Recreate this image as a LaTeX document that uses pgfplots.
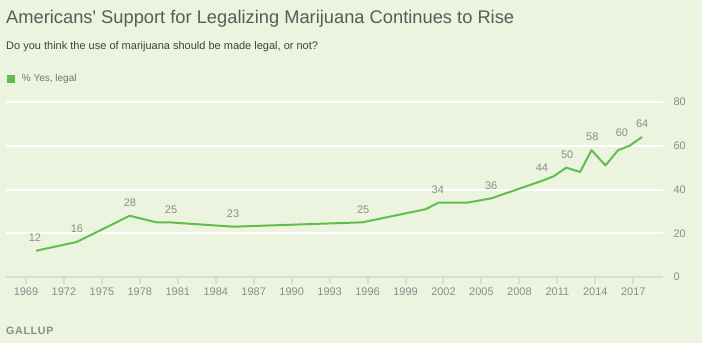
\documentclass[border=0pt]{standalone}
\usepackage{fontspec}
\setmainfont{Liberation Sans}
\usepackage{pgfplots}
\pgfplotsset{compat=1.18}
\definecolor{bgc}{RGB}{236,243,222}
\definecolor{lgreen}{RGB}{96,190,77}
\definecolor{tgray}{RGB}{140,140,140}
\definecolor{titlegray}{RGB}{90,90,90}
\definecolor{axgray}{RGB}{218,218,214}
\newfontfamily\gallupfont[LetterSpace=6]{Liberation Sans}
\begin{document}
\begin{tikzpicture}
\fill[bgc] (0,0) rectangle (702pt,-343pt);
\path[use as bounding box] (0,0) rectangle (702pt,-343pt);
\node[anchor=base west, inner sep=0, text=titlegray, font=\fontsize{18.3}{21}\selectfont] at (6pt,-23pt) {Americans\textquotesingle\ Support for Legalizing Marijuana Continues to Rise};
\node[anchor=base west, inner sep=0, text=black!75, font=\fontsize{11}{13}\selectfont] at (6pt,-49pt) {Do you think the use of marijuana should be made legal, or not?};
\fill[lgreen] (6.7pt,-74.7pt) rectangle (14.7pt,-82.7pt);
\node[anchor=base west, inner sep=0, text=black!55, font=\fontsize{10}{12}\selectfont] at (21.7pt,-81.7pt) {\% Yes, legal};
\node[anchor=base west, inner sep=0, text=tgray, font=\gallupfont\bfseries\fontsize{10.7}{13}\selectfont] at (6pt,-334pt) {GALLUP};
\begin{axis}[at={(6pt,-277pt)}, anchor=south west, scale only axis,
  width=657pt, height=175pt,
  xmin=1967.42, xmax=2019.35, ymin=0, ymax=80,
  axis x line*=bottom, axis y line*=right,
  y axis line style={draw=none},
  x axis line style={draw=axgray, line width=2pt},
  xtick={1969,1972,...,2017}, ytick={0,20,...,80},
  ymajorgrids, major grid style={draw=white, line width=2pt},
  tick align=outside, major tick length=7pt,
  xtick style={draw=axgray, line width=2pt},
  ytick style={draw=none},
  yticklabel pos=right,
  tick label style={font=\fontsize{11}{13}\selectfont, text=tgray},
  /pgf/number format/assume math mode=true,
  /pgf/number format/1000 sep={},
  clip=false]
\addplot[lgreen, line width=2pt, line join=round] coordinates {
(1969.8,12) (1973.0,16) (1977.2,28) (1979.3,25) (1980.3,25) (1985.4,23)
(1995.6,25) (2000.6,31) (2001.6,34) (2003.9,34) (2005.8,36) (2009.8,44)
(2010.7,46) (2011.7,50) (2012.8,48) (2013.7,58) (2014.8,51) (2015.8,58)
(2016.7,60) (2017.7,64)};
\addplot[draw=none, mark=none, nodes near coords, point meta=explicit symbolic,
  nodes near coords style={anchor=center, yshift=13pt, font=\fontsize{11}{13}\selectfont, text=tgray}]
  coordinates {
(1969.71,12) [12] (1973.03,16) [16] (1977.22,28) [28] (1980.47,25) [25]
(1985.37,23) [23] (1995.65,25) [25] (2001.55,34) [34] (2005.77,36) [36]
(2009.78,44) [44] (2011.78,50) [50] (2013.76,58) [58] (2016.1,60) [60]
(2017.7,64) [64]};
\end{axis}
\end{tikzpicture}
\end{document}
